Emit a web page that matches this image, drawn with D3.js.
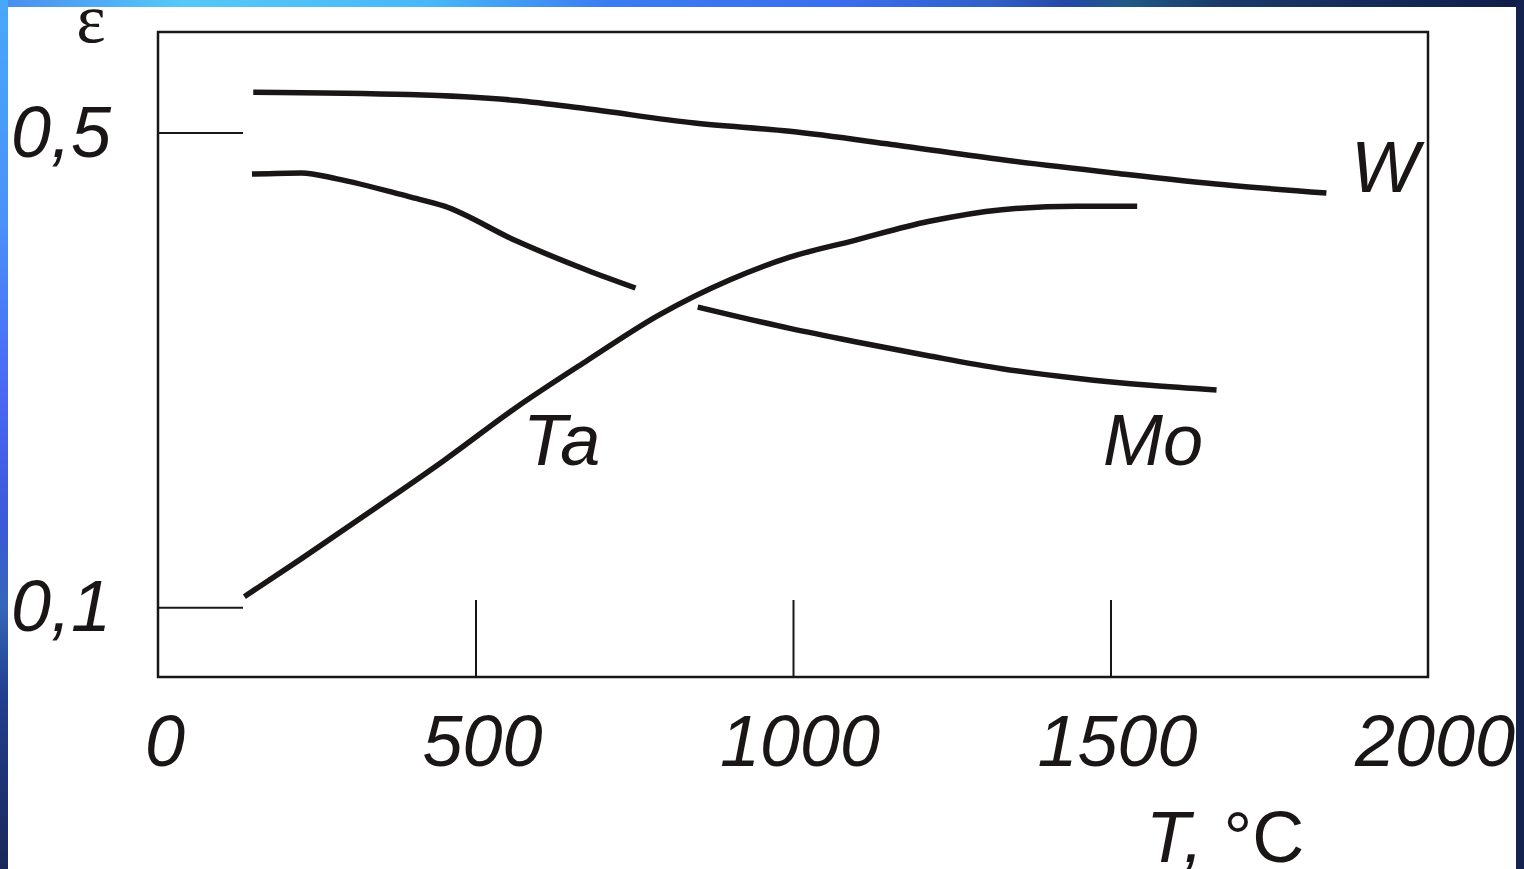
<!DOCTYPE html>
<html lang="ru">
<head>
    <meta charset="UTF-8">
    <title>Emissivity vs temperature</title>
    <script src="https://d3js.org/d3.v7.min.js"></script>
    <style>
        body { margin: 0; background: #fff; }
        svg { display: block; }
        .lbl { font-family: 'Liberation Sans', Arial, sans-serif; font-style: italic; fill: #1a1616; }
    </style>
</head>
<body>
<div id="chart"></div>
<script>
    // temperature, C  /  emissivity
    var tW   = [150, 395, 565, 675, 845, 995, 1155, 1330, 1505, 1680, 1840];
    var epsW = [0.534, 0.532, 0.527, 0.520, 0.508, 0.501, 0.490, 0.477, 0.466, 0.456, 0.449];

    // Mo is drawn in two pieces (gap where it crosses Ta)
    var tMo1   = [148, 226, 282, 395, 451, 563, 676, 752];
    var epsMo1 = [0.465, 0.466, 0.461, 0.446, 0.438, 0.409, 0.384, 0.369];
    var tMo2   = [850, 995, 1096, 1213, 1329, 1446, 1562, 1667];
    var epsMo2 = [0.353, 0.335, 0.324, 0.312, 0.301, 0.293, 0.287, 0.283];

    var tTa   = [136, 226, 338, 451, 563, 676, 788, 901, 995, 1096, 1213, 1329, 1446, 1542];
    var epsTa = [0.109, 0.141, 0.182, 0.224, 0.268, 0.308, 0.346, 0.376, 0.395, 0.409, 0.425, 0.435, 0.438, 0.438];

    var xTickVals = [0, 500, 1000, 1500, 2000];
    var xTickLabels = ["0", "500", "1000", "1500", "2000"];
    var xInnerTicks = [500, 1000, 1500];
    var yTickVals = [0.1, 0.5];
    var yTickLabels = ["0,1", "0,5"];

    var W = 1524, H = 869;
    var svg = d3.select("#chart").append("svg").attr("width", W).attr("height", H);
    var defs = svg.append("defs");

    // slide decoration
    var gl = defs.append("linearGradient").attr("id", "gl").attr("x1", 0).attr("y1", 0).attr("x2", 0).attr("y2", 1);
    [[0, "#48a8f8"], [0.25, "#4a92f8"], [0.45, "#4a68f5"], [0.6, "#3a5ad8"], [0.7, "#3466b8"], [0.8, "#223e90"], [1, "#1a2858"]]
        .forEach(function (s) { gl.append("stop").attr("offset", s[0]).attr("stop-color", s[1]); });
    var gt = defs.append("linearGradient").attr("id", "gt");
    [[0, "#4a8cf0"], [0.12, "#55c8f8"], [0.28, "#48b8f8"], [0.4, "#3a7cf2"], [0.55, "#3a6ef0"], [0.65, "#3060c8"], [0.7, "#2448a8"], [0.74, "#1e5a84"], [0.8, "#1a3a6a"], [1, "#101c48"]]
        .forEach(function (s) { gt.append("stop").attr("offset", s[0]).attr("stop-color", s[1]); });

    svg.append("rect").attr("x", 0).attr("y", 0).attr("width", W).attr("height", 7).attr("fill", "url(#gt)");
    svg.append("rect").attr("x", 0).attr("y", 0).attr("width", 8).attr("height", H).attr("fill", "url(#gl)");
    svg.append("rect").attr("x", 1516).attr("y", 0).attr("width", 8).attr("height", H).attr("fill", "#13224f");

    var x = d3.scaleLinear().domain([0, 2000]).range([158, 1428]);
    var y = d3.scaleLinear().domain([0.0413, 0.5847]).range([677, 32]);

    var ink = "#1a1616";

    // frame
    svg.append("rect")
        .attr("x", x(0)).attr("y", y(0.5847))
        .attr("width", x(2000) - x(0)).attr("height", y(0.0413) - y(0.5847))
        .attr("fill", "none").attr("stroke", ink).attr("stroke-width", 2.5);

    // inner ticks
    var xa = svg.append("g").attr("transform", "translate(0," + y(0.0413) + ")")
        .call(d3.axisBottom(x).tickValues(xInnerTicks).tickSize(-77).tickFormat(""));
    var ya = svg.append("g").attr("transform", "translate(" + x(0) + ",0)")
        .call(d3.axisLeft(y).tickValues(yTickVals).tickSize(-85).tickFormat(""));
    [xa, ya].forEach(function (g) {
        g.select(".domain").remove();
        g.selectAll("line").attr("stroke", ink).attr("stroke-width", 2);
    });

    // tick labels
    svg.selectAll("text.xl").data(xTickVals).enter().append("text")
        .attr("class", "lbl xl")
        .attr("x", function (d) { return x(d) + 7; })
        .attr("y", 766)
        .attr("text-anchor", "middle")
        .attr("font-size", 72)
        .text(function (d, i) { return xTickLabels[i]; });

    svg.selectAll("text.yl").data(yTickVals).enter().append("text")
        .attr("class", "lbl yl")
        .attr("x", 111)
        .attr("y", function (d) { return y(d) + 24; })
        .attr("text-anchor", "end")
        .attr("font-size", 72)
        .text(function (d, i) { return yTickLabels[i]; });

    // axis titles
    svg.append("text")
        .attr("x", 91).attr("y", 42)
        .attr("text-anchor", "middle")
        .attr("font-family", "'Liberation Serif', 'Times New Roman', serif")
        .attr("font-size", 70)
        .attr("fill", ink)
        .text("ε");

    var tt = svg.append("text").attr("class", "lbl").attr("x", 1146).attr("y", 862).attr("font-size", 72);
    tt.append("tspan").text("T, ");
    tt.append("tspan").attr("font-style", "normal").text("°C");

    // curves
    var line = d3.line()
        .x(function (d) { return x(d[0]); })
        .y(function (d) { return y(d[1]); })
        .curve(d3.curveMonotoneX);

    [[tW, epsW], [tMo1, epsMo1], [tMo2, epsMo2], [tTa, epsTa]].forEach(function (s) {
        svg.append("path")
            .datum(d3.zip(s[0], s[1]))
            .attr("d", line)
            .attr("fill", "none")
            .attr("stroke", ink)
            .attr("stroke-width", 5.5);
    });

    // series names
    svg.append("text").attr("class", "lbl").attr("x", 1351).attr("y", 192).attr("font-size", 72).text("W");
    svg.append("text").attr("class", "lbl").attr("x", 523).attr("y", 465).attr("font-size", 72).text("Ta");
    svg.append("text").attr("class", "lbl").attr("x", 1103).attr("y", 465).attr("font-size", 72).text("Mo");
</script>
</body>
</html>
